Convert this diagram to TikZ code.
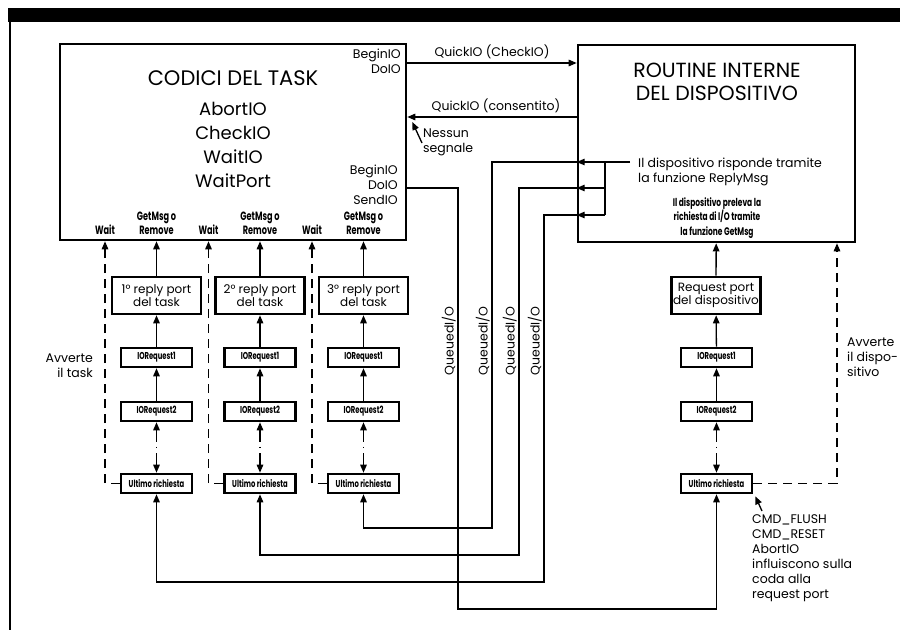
\documentclass[tikz,border=0pt]{standalone}
\usepackage{fontspec}
\setmainfont{Poppins}
\newfontfamily\condfont[FakeStretch=0.68]{Poppins}
\usetikzlibrary{arrows.meta,positioning}
\tikzset{
  box/.style={draw,line width=2.6pt,inner sep=0pt},
  port/.style={box,minimum width=89pt,minimum height=37pt,align=center,
    font=\fontsize{12}{12.5}\selectfont},
  ioreq/.style={box,minimum width=71pt,minimum height=19pt,
    font=\condfont\bfseries\fontsize{10}{10}\selectfont},
  lbl/.style={inner sep=0pt,font=\fontsize{12.5}{15}\selectfont},
  cond/.style={inner sep=0pt,align=center,font=\condfont\bfseries\fontsize{12}{14}\selectfont},
  arrow/.style={-{Triangle[length=8pt,width=6.5pt]},line width=1.3pt},
  dasharrow/.style={arrow,dash pattern=on 9pt off 6pt},
  chain/.style={{Triangle[length=8pt,width=6.5pt]}-{Triangle[length=8pt,width=6.5pt]},
    line width=1.3pt,dash pattern=on 12pt off 5pt on 1.5pt off 5pt on 40pt}
}
\begin{document}
\begin{tikzpicture}[x=1pt,y=-1pt]
\useasboundingbox (0,0) rectangle (900,630);
\fill (8,8) rectangle (900,22);
\draw[line width=2pt] (10,22) -- (10,630);
% the two main blocks
\node[box,minimum width=346pt,minimum height=196pt] (task) at (233,142) {};
\node[box,minimum width=277pt,minimum height=197pt] (dev) at (716.5,143.5) {};
\node[lbl,font=\fontsize{21}{21}\selectfont] (tasktitle) at (233,78) {CODICI DEL TASK};
\node[lbl,align=center,font=\fontsize{18}{24}\selectfont] (calls) at (233,145) {AbortIO\\CheckIO\\WaitIO\\WaitPort};
\node[lbl,align=right,anchor=north east] (begin1) at (401,49) {BeginIO\\DoIO};
\node[lbl,align=right,anchor=north east] (begin2) at (398,165) {BeginIO\\DoIO\\SendIO};
\node[lbl,align=center,font=\fontsize{20.5}{23}\selectfont] (devtitle) at (717,82) {ROUTINE INTERNE\\DEL DISPOSITIVO};
\node[lbl,align=left,anchor=west] (reply) at (638,172) {Il dispositivo risponde tramite\\la funzione ReplyMsg};
\node[cond,font=\condfont\bfseries\fontsize{11}{14.5}\selectfont] (getmsg) at (717,218) {Il dispositivo preleva la\\richiesta di I/O tramite\\la funzione GetMsg};
% reply ports of the task
\foreach \i/\x in {1/156.5,2/260,3/363.5} {
  \node[port] (rp\i) at (\x,295.5) {\i° reply port\\del task};
  \node[ioreq] (ra\i) at (\x,357.5) {IORequest1};
  \node[ioreq] (rb\i) at (\x,411.5) {IORequest2};
  \node[ioreq] (rl\i) at (\x,483.5) {Ultimo richiesta};
  \node[cond,anchor=south] (get\i) at (\x,235) {GetMsg o\\Remove};
  \node[cond,anchor=south] (wait\i) at (\x-51.5,235) {Wait};
  \draw[arrow] (rp\i) -- (rp\i |- task.south);
  \draw[arrow] (ra\i) -- (rp\i);
  \draw[arrow] (rb\i) -- (ra\i);
  \draw[chain] (rb\i) -- (rl\i);
  \draw[dasharrow] (rl\i.west) -| (wait\i |- task.south);
}
% request port of the device
\node[port] (reqport) at (716,295.5) {Request port\\del dispositivo};
\node[ioreq] (da) at (716.5,357.5) {IORequest1};
\node[ioreq] (db) at (716.5,411.5) {IORequest2};
\node[ioreq] (dl) at (716.5,483.5) {Ultimo richiesta};
\draw[arrow] (reqport) -- (dev);
\draw[arrow] (da) -- (reqport);
\draw[arrow] (db) -- (da);
\draw[chain] (db) -- (dl);
\coordinate (avdev) at (837,0);
\draw[dasharrow] (dl.east) -| (avdev |- dev.south);
\node[lbl,align=right,anchor=east] (avtask) at (93,366) {Avverte\\il task};
\node[lbl,align=left,anchor=west] (avdevlbl) at (847,357) {Avverte\\il dispo-\\sitivo};
\node[lbl,align=left,anchor=north west] (cmd) at (752,514) {CMD\_FLUSH\\CMD\_RESET\\AbortIO\\influiscono sulla\\coda alla\\request port};
\draw[arrow] ([shift={(10,-3)}]cmd.north west) -- ([shift={(2,2)}]dl.south east);
% QuickIO
\coordinate (yq1) at (0,63);
\coordinate (yq2) at (0,117);
\draw[arrow] (task.east |- yq1) -- (dev.west |- yq1) node[lbl,midway,above=4pt] (qlbl1) {QuickIO (CheckIO)};
\draw[arrow] (dev.west |- yq2) -- (task.east |- yq2) node[lbl,midway,above=4pt,xshift=4pt] (qlbl2) {QuickIO (consentito)};
\node[lbl,align=left,anchor=north west] (nessun) at (423,129) {Nessun\\segnale};
\draw[arrow] ([shift={(-1,14)}]nessun.north west) -- ([shift={(5,5)}]task.east |- yq2);
% QueuedI/O towards the request port
\coordinate (yq3) at (0,188);
\coordinate (qx0) at (458,609);
\draw[arrow] (task.east |- yq3) -| (qx0) -| (dl.south);
\node[lbl,rotate=90,anchor=south] (qlab0) at (456,341) {QueuedI/O};
% replies back to the reply ports
\coordinate (rtext) at (630,162);
\coordinate (split) at (605,162);
\draw[line width=1.3pt] (rtext) -- (split) -- (605,215);
\foreach \i/\y/\x/\b in {3/162/492/528,2/188/519/555,1/215/544/582} {
  \coordinate (tap\i) at (605,\y);
  \coordinate (bend\i) at (\x,\b);
  \draw[arrow] (tap\i) -- (dev.west |- tap\i);
  \draw[arrow] (dev.west |- tap\i) -| (bend\i) -| (rl\i.south);
  \node[lbl,rotate=90,anchor=south] (qlab\i) at (\x-2,341) {QueuedI/O};
}
\end{tikzpicture}
\end{document}
